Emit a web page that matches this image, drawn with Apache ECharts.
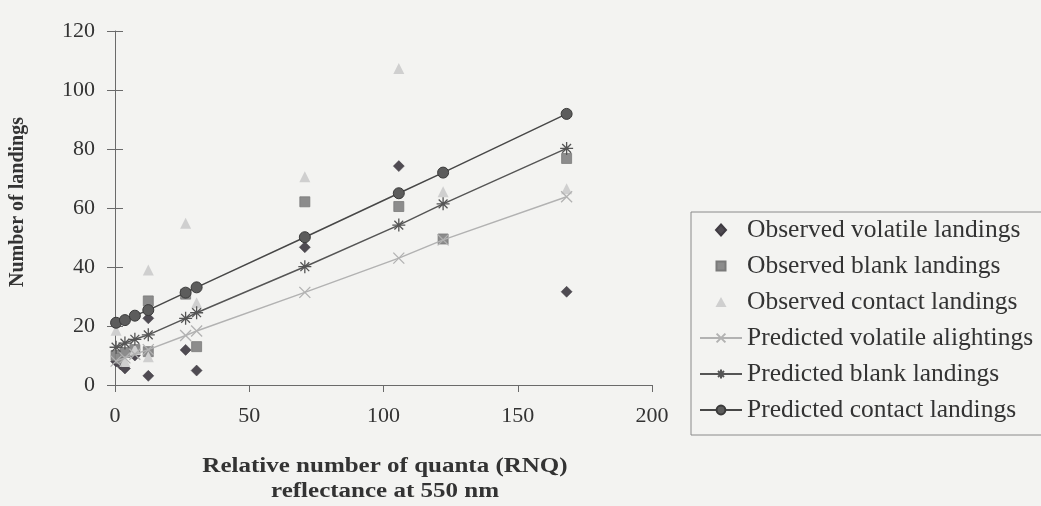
<!DOCTYPE html>
<html>
<head>
<meta charset="utf-8">
<script src="https://cdn.jsdelivr.net/npm/echarts@6/dist/echarts.min.js"></script>
<style>
  html, body { margin: 0; padding: 0; background: #f3f3f1; }
  #chart { width: 1041px; height: 506px; }
</style>
</head>
<body>
<div id="chart"></div>
<script>
// RNQ values (x) at which the predicted landings were computed
const rnq = [0.4, 3.7, 7.4, 12.4, 26.3, 30.4, 70.7, 105.7, 122.2, 168.2];

// Predicted landings for each RNQ value
const predVolatile = [8.1, 9.2, 10.4, 12.0, 16.8, 18.3, 31.4, 43.0, 49.2, 63.8];
const predBlank    = [12.8, 14.2, 15.5, 17.0, 22.6, 24.5, 40.1, 54.2, 61.4, 80.2];
const predContact  = [21.1, 22.0, 23.5, 25.4, 31.3, 33.1, 50.1, 65.0, 72.0, 91.9];

// Observed landings (x = RNQ, y = count)
const obsVolatileX = [0.4, 2.0, 3.7, 7.4, 12.4, 12.4, 26.3, 30.4, 70.7, 105.7, 168.2];
const obsVolatileY = [8, 7, 5.6, 10, 3.1, 22.6, 11.9, 4.9, 46.7, 74.2, 31.6];
const obsBlankX = [0.4, 2.0, 3.7, 7.4, 12.4, 12.4, 26.3, 30.4, 70.7, 105.7, 122.2, 168.2];
const obsBlankY = [10, 9, 11, 12, 28.5, 11.3, 30.8, 13.0, 62.1, 60.5, 49.5, 76.8];
const obsContactX = [0.4, 3.7, 7.4, 12.4, 12.4, 26.3, 30.4, 70.7, 105.7, 122.2, 168.2];
const obsContactY = [18.6, 8, 12, 39.0, 9.6, 54.8, 27.9, 70.6, 107.3, 65.5, 66.5];

// Axis tick values
const xTicks = [0, 50, 100, 150, 200];
const yTicks = [0, 20, 40, 60, 80, 100, 120];

const seriesNames = [
  'Observed volatile landings',
  'Observed blank landings',
  'Observed contact landings',
  'Predicted volatile alightings',
  'Predicted blank landings',
  'Predicted contact landings'
];

const zip = (xs, ys) => xs.map((x, i) => [x, ys[i]]);

const FONT = 'Liberation Serif';
const AXIS_COLOR = '#6a6a6a';
const ASTERISK = 'path://M0,5L10,5M5,0L5,10M1.6,1.6L8.4,8.4M8.4,1.6L1.6,8.4';
const CROSS = 'path://M0,0L10,10M10,0L0,10';

// Legend icons for the marker-only series: a small shape centred in the
// full 42x11 legend slot (the bare moveTo points fix the slot's extent)
const LEGEND_DIAMOND = 'path://M0,0M42,11M21,0L26,5.5L21,11L16,5.5Z';
const LEGEND_SQUARE = 'path://M0,0M42,11M16.5,1L25.5,1L25.5,10L16.5,10Z';
const LEGEND_TRIANGLE = 'path://M0,0M42,11M21,0.5L26.5,10.5L15.5,10.5Z';

const chart = echarts.init(document.getElementById('chart'), null, { renderer: 'canvas' });

const baseX = {
  type: 'value',
  min: xTicks[0], max: xTicks[xTicks.length - 1], interval: xTicks[1] - xTicks[0],
  splitLine: { show: false }
};
const baseY = {
  type: 'value',
  min: yTicks[0], max: yTicks[yTicks.length - 1], interval: yTicks[1] - yTicks[0],
  splitLine: { show: false }
};

chart.setOption({
  backgroundColor: '#f3f3f1',
  animation: false,
  grid: { left: 115, top: 31, right: 389, bottom: 121, containLabel: false },
  xAxis: [
    Object.assign({}, baseX, {
      axisLine: { lineStyle: { color: AXIS_COLOR, width: 1 } },
      axisTick: { inside: false, length: 7, lineStyle: { color: AXIS_COLOR } },
      axisLabel: { color: '#333', fontFamily: FONT, fontSize: 22, margin: 20 }
    }),
    // second copy of the axis only draws the inner half of each tick
    Object.assign({}, baseX, {
      axisLine: { show: false },
      axisTick: { inside: true, length: 7, lineStyle: { color: AXIS_COLOR } },
      axisLabel: { show: false }
    })
  ],
  yAxis: [
    Object.assign({}, baseY, {
      axisLine: { show: true, lineStyle: { color: AXIS_COLOR, width: 1 } },
      axisTick: { show: true, inside: false, length: 8, lineStyle: { color: AXIS_COLOR } },
      axisLabel: { color: '#333', fontFamily: FONT, fontSize: 22, margin: 20, padding: [0, 0, 8, 0] }
    }),
    Object.assign({}, baseY, {
      position: 'left',
      axisLine: { show: false },
      axisTick: { show: true, inside: true, length: 8, lineStyle: { color: AXIS_COLOR } },
      axisLabel: { show: false }
    })
  ],
  legend: {
    orient: 'vertical',
    left: 691, top: 212,
    padding: [5, 60, 12, 8],
    itemGap: 10,
    itemWidth: 42,
    itemHeight: 11,
    borderColor: '#8a8a8a',
    borderWidth: 1,
    backgroundColor: '#f3f3f1',
    data: [
      { name: seriesNames[0], icon: LEGEND_DIAMOND },
      { name: seriesNames[1], icon: LEGEND_SQUARE },
      { name: seriesNames[2], icon: LEGEND_TRIANGLE },
      { name: seriesNames[3] },
      { name: seriesNames[4] },
      { name: seriesNames[5] }
    ],
    textStyle: { fontFamily: FONT, fontSize: 25.5, color: '#333', lineHeight: 24 }
  },
  graphic: [
    {
      type: 'text', x: 18, y: 202, rotation: Math.PI / 2,
      style: { text: 'Number of landings', font: 'bold 20px "Liberation Serif"', fill: '#333', align: 'center', verticalAlign: 'middle' }
    },
    {
      type: 'text', x: 385, y: 467, scaleX: 1.25,
      style: { text: 'Relative number of quanta (RNQ)', font: 'bold 20px "Liberation Serif"', fill: '#333', align: 'center', verticalAlign: 'middle' }
    },
    {
      type: 'text', x: 385, y: 492, scaleX: 1.25,
      style: { text: 'reflectance at 550 nm', font: 'bold 20px "Liberation Serif"', fill: '#333', align: 'center', verticalAlign: 'middle' }
    }
  ],
  series: [
    {
      name: seriesNames[0], type: 'scatter', symbol: 'diamond', symbolSize: 11,
      itemStyle: { color: '#4f4b52', borderColor: '#3f3b42', borderWidth: 0.5, opacity: 1 },
      data: zip(obsVolatileX, obsVolatileY)
    },
    {
      name: seriesNames[1], type: 'scatter', symbol: 'rect', symbolSize: 10,
      itemStyle: { color: '#8c8c8c', borderColor: '#7a7a7a', borderWidth: 0.8, opacity: 1 },
      data: zip(obsBlankX, obsBlankY)
    },
    {
      name: seriesNames[2], type: 'scatter', symbol: 'triangle', symbolSize: 11,
      itemStyle: { color: '#cfcfcf', opacity: 1 },
      data: zip(obsContactX, obsContactY)
    },
    {
      name: seriesNames[3], type: 'line', symbol: CROSS, symbolSize: 11,
      showAllSymbol: true,
      lineStyle: { color: '#b2b2b2', width: 1.5 },
      itemStyle: { color: 'rgba(0,0,0,0)', borderColor: '#b2b2b2', borderWidth: 1.3 },
      data: zip(rnq, predVolatile)
    },
    {
      name: seriesNames[4], type: 'line', symbol: ASTERISK, symbolSize: 13,
      showAllSymbol: true,
      lineStyle: { color: '#555', width: 1.5 },
      itemStyle: { color: 'rgba(0,0,0,0)', borderColor: '#555', borderWidth: 1.3 },
      data: zip(rnq, predBlank)
    },
    {
      name: seriesNames[5], type: 'line', symbol: 'circle', symbolSize: 11,
      showAllSymbol: true,
      lineStyle: { color: '#474747', width: 1.5 },
      itemStyle: { color: '#5c5c5c', borderColor: '#3a3a3a', borderWidth: 1 },
      data: zip(rnq, predContact)
    }
  ]
});
</script>
</body>
</html>
